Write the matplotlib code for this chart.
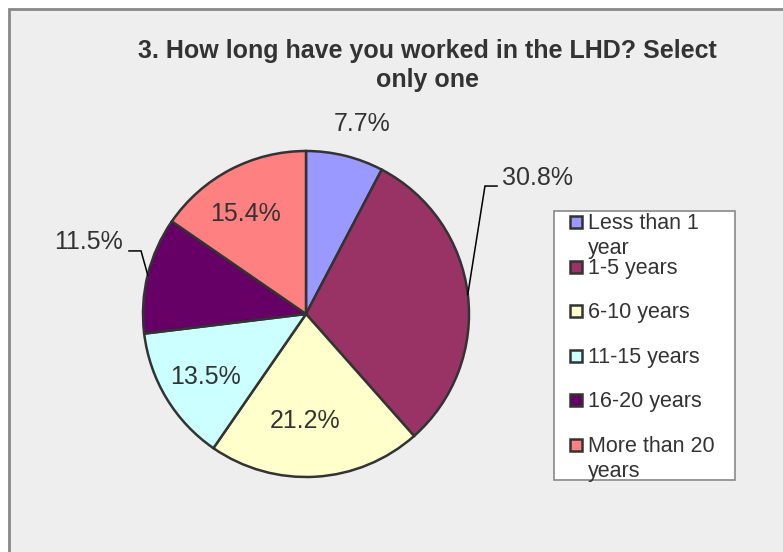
import matplotlib
matplotlib.use("Agg")
import matplotlib.pyplot as plt
import numpy as np
from matplotlib.patches import Rectangle

categories = ["Less than 1 year", "1-5 years", "6-10 years", "11-15 years",
              "16-20 years", "More than 20 years"]
legend_labels = ["Less than 1\nyear", "1-5 years", "6-10 years", "11-15 years",
                 "16-20 years", "More than 20\nyears"]
counts = [4, 16, 11, 7, 6, 8]
pct_labels = ["7.7%", "30.8%", "21.2%", "13.5%", "11.5%", "15.4%"]
colors = ["#9999FF", "#993366", "#FFFFCC", "#CCFFFF", "#660066", "#FF8080"]
title_lines = ["3. How long have you worked in the LHD? Select", "only one"]

W, H = 783, 552
fig = plt.figure(figsize=(W / 100, H / 100), dpi=100)
fig.patch.set_facecolor("white")

def fx(x):
    return x / W

def fy(y):
    return 1 - y / H

# chart area background with border
bg = Rectangle((fx(9), -0.01), 1 - fx(9) + 0.01, fy(9) + 0.01, transform=fig.transFigure,
               facecolor="#EEEEEE", edgecolor="#888888", linewidth=2, zorder=-5)
fig.patches.append(bg)

FONT = "Liberation Sans"
TXT = "#333333"

fig.text(fx(427), fy(58), title_lines[0], ha="center", va="baseline", fontsize=18,
         fontweight="bold", color=TXT, family=FONT)
fig.text(fx(427), fy(87), title_lines[1], ha="center", va="baseline", fontsize=18,
         fontweight="bold", color=TXT, family=FONT)

cx, cy, R = 306, 314, 163
ax = fig.add_axes([fx(cx - R), fy(cy + R), 2 * R / W, 2 * R / H])
ax.set_facecolor("none")
wedges, _ = ax.pie(counts, colors=colors, startangle=90, counterclock=False,
                   radius=1.0, wedgeprops=dict(edgecolor="#333333", linewidth=1.8))
ax.set_xlim(-1, 1)
ax.set_ylim(-1, 1)
ax.axis("off")

# label placement: (radius factor, angle shift in degrees) for plain labels
place = {0: ("plain", 1.23, -2.5), 1: ("leader", None, 0), 2: ("plain", 0.64, -4.0),
         3: ("plain", 0.72, 0.0), 4: ("leader", None, 0), 5: ("plain", 0.73, 3.0)}
for i, w in enumerate(wedges):
    kind, r, shift = place[i]
    mid = np.deg2rad((w.theta1 + w.theta2) / 2 + shift)
    if kind == "plain":
        ax.text(r * np.cos(mid), r * np.sin(mid), pct_labels[i], ha="center",
                va="center_baseline", fontsize=18, color=TXT, family=FONT)
    else:
        sx, sy = np.cos(mid), np.sin(mid)
        if sx > 0:
            ex, ey, hx, tx, ty, ha = 1.098, 0.785, 1.172, 1.202, 0.791, "left"
        else:
            ex, ey, hx, tx, ty, ha = -1.012, 0.387, -1.086, -1.123, 0.399, "right"
        ax.plot([sx, ex, hx], [sy, ey, ey], color="black", lw=1.1,
                clip_on=False, solid_joinstyle="miter")
        ax.text(tx, ty, pct_labels[i], ha=ha, va="baseline", fontsize=18,
                color=TXT, family=FONT)

# legend box drawn manually
lx0, ly0, lx1, ly1 = 554, 211, 735, 480
fig.patches.append(Rectangle((fx(lx0), fy(ly1)), fx(lx1) - fx(lx0), fy(ly0) - fy(ly1),
                             transform=fig.transFigure, facecolor="white",
                             edgecolor="#888888", linewidth=1.2, zorder=1))
first_y = 222
step = 44.6
LFS = 15.5
for i, lab in enumerate(legend_labels):
    y = first_y + i * step
    s = 12
    fig.patches.append(Rectangle((fx(576 - s / 2), fy(y + s / 2)), s / W, s / H,
                                 transform=fig.transFigure, facecolor=colors[i],
                                 edgecolor="#333333", linewidth=1.8, zorder=2))
    lines = lab.split("\n")
    for j, ln in enumerate(lines):
        fig.text(fx(588), fy(y + 7 + 25 * j), ln, ha="left", va="baseline",
                 fontsize=LFS, color=TXT, family=FONT, zorder=3)

fig.savefig("out.png", dpi=100)
